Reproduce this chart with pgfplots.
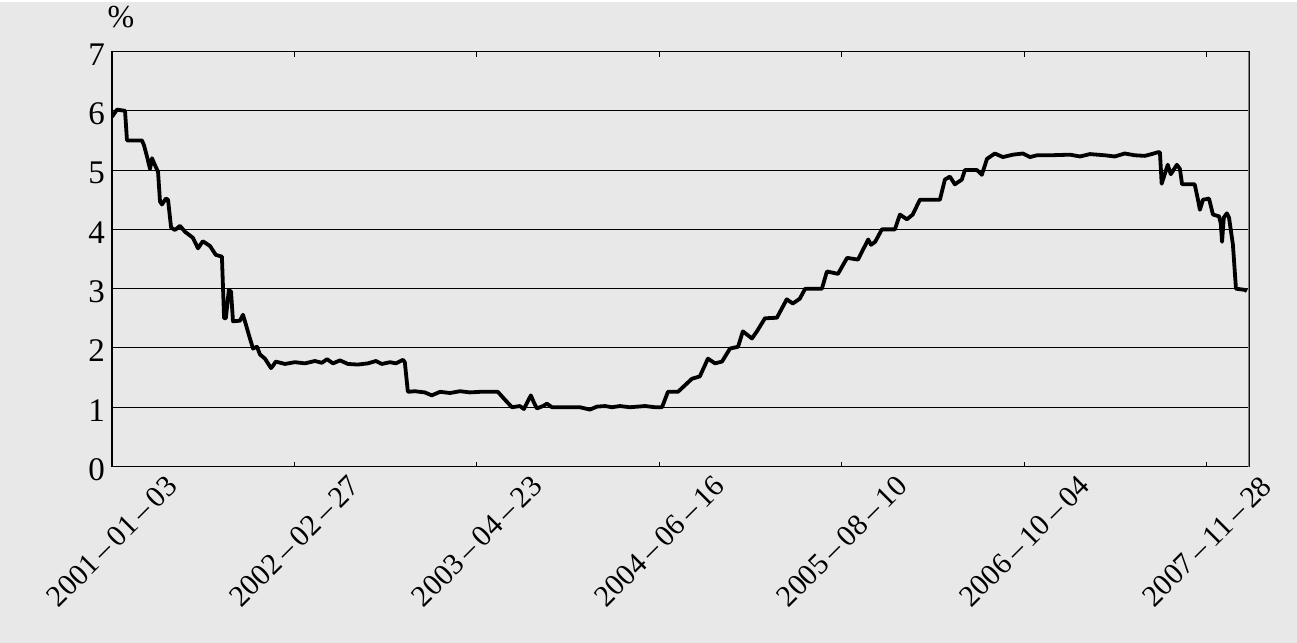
\documentclass[border=0pt]{standalone}
\usepackage{fontspec}
\setmainfont{Liberation Serif}
\usepackage{pgfplots}
\pgfplotsset{compat=1.18}
\definecolor{bg}{RGB}{232,232,232}
\begin{document}
\begin{tikzpicture}
\fill[bg] (-56pt,-88pt) rectangle (592.5pt,232.5pt);
\begin{axis}[
  at={(0,0)}, anchor=south west,
  width=568.5pt, height=207.5pt, scale only axis,
  xmin=0, xmax=2617, ymin=0, ymax=7,
  xtick={0,420,840,1260,1680,2100,2520},
  xticklabels={2001\,–\,01\,–\,03,2002\,–\,02\,–\,27,2003\,–\,04\,–\,23,2004\,–\,06\,–\,16,2005\,–\,08\,–\,10,2006\,–\,10\,–\,04,2007\,–\,11\,–\,28},
  ytick={0,1,2,3,4,5,6,7},
  ymajorgrids,
  grid style={black, line width=0.5pt},
  tick align=inside,
  major tick length=2.5pt,
  ytick style={draw=none},
  xtick style={black, line width=0.5pt},
  axis line style={black, line width=0.7pt},
  /pgf/number format/assume math mode=true,
  x tick label style={yshift=-37.5pt, rotate=45, anchor=center, inner sep=0pt, font=\fontsize{15}{16}\selectfont},
  y tick label style={yshift=-1.5pt, font=\fontsize{16.5}{18}\selectfont},
]
\addplot[black, line width=1.9pt, line join=round] coordinates {
(0,5.90)(11.5,6.02)(30,6.00)(34.5,5.50)(69,5.50)(73.6,5.42)(80.5,5.23)(87.5,5.02)(92,5.20)(101,5.05)(106,4.97)(110.5,4.47)(115,4.42)(124,4.52)(129,4.50)(136,4.03)(145,3.99)(156.5,4.06)(168,3.96)(186,3.86)(198,3.68)(209,3.80)(225.5,3.72)(239,3.57)(253,3.54)(258,2.50)(262,2.50)(269,2.98)(274,2.95)(278.5,2.45)(294.6,2.46)(301.5,2.56)(308,2.40)(315,2.22)(324.5,1.99)(333.7,2.02)(340.6,1.89)(352,1.82)(366,1.66)(370.5,1.70)(377,1.77)(398,1.73)(421,1.76)(444,1.74)(467,1.78)(483,1.75)(495,1.81)(508.6,1.74)(524.7,1.79)(543,1.73)(566,1.72)(589,1.74)(607.6,1.78)(621,1.73)(640,1.76)(653.6,1.74)(669.7,1.80)(674,1.76)(681,1.26)(697,1.27)(720,1.25)(736,1.20)(755,1.26)(778,1.24)(801,1.27)(824,1.25)(847,1.26)(870,1.26)(888,1.26)(904,1.13)(920.6,1.00)(939,1.02)(948,0.97)(964,1.20)(971,1.08)(978,0.98)(992,1.02)(1001,1.06)(1012.6,1.00)(1031,1.00)(1077,1.00)(1100,0.96)(1116,1.01)(1134.6,1.02)(1150.7,1.00)(1169,1.02)(1192,1.00)(1227,1.02)(1250,1.00)(1266,1.00)(1279.6,1.26)(1302.6,1.26)(1334.8,1.48)(1353,1.52)(1371.6,1.82)(1387.9,1.74)(1404,1.77)(1422.5,1.99)(1441,2.02)(1452,2.28)(1473,2.16)(1484.4,2.28)(1502.8,2.50)(1530.4,2.51)(1553,2.82)(1567,2.75)(1583,2.83)(1595.5,3.00)(1634,3.00)(1645.5,3.29)(1671,3.25)(1692,3.52)(1717,3.49)(1740.5,3.83)(1747,3.74)(1756.5,3.79)(1772,4.00)(1802,4.00)(1813.5,4.25)(1829.6,4.17)(1843,4.25)(1859.5,4.50)(1905.6,4.50)(1917,4.84)(1928.6,4.89)(1940,4.76)(1956,4.84)(1963,5.00)(1991,5.00)(2002,4.92)(2014,5.19)(2032,5.28)(2050.5,5.22)(2073.6,5.26)(2096.6,5.28)(2113,5.22)(2129,5.25)(2159,5.25)(2205,5.26)(2228,5.23)(2251,5.27)(2285,5.25)(2308,5.23)(2331,5.28)(2354,5.25)(2377,5.24)(2393,5.27)(2407,5.30)(2412,5.30)(2416,4.77)(2430,5.09)(2437,4.93)(2451,5.09)(2458,5.02)(2463,4.76)(2492,4.76)(2499,4.52)(2504,4.33)(2511,4.50)(2525,4.52)(2534,4.25)(2548,4.22)(2552,4.10)(2555,3.79)(2559,4.20)(2566,4.27)(2571,4.20)(2580,3.74)(2587,3.00)(2607,2.98)(2612,2.96)
};
\draw[gray, line width=1pt] (rel axis cs:1,0) -- (rel axis cs:1,1);
\end{axis}
\node[font=\fontsize{16}{16}\selectfont] at (4.5pt,224.5pt) {\%};
\end{tikzpicture}
\end{document}
